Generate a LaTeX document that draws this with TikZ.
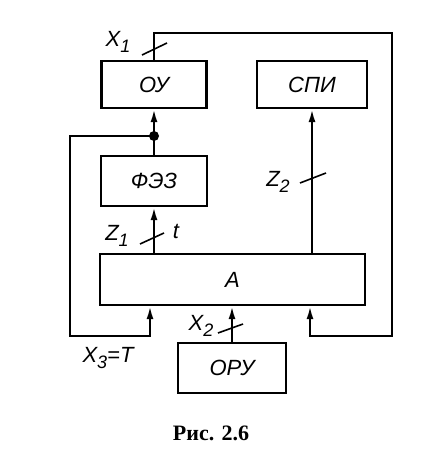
\documentclass[tikz,border=0pt]{standalone}
\usepackage{fontspec}
\setmainfont{Liberation Serif}
\newfontfamily\gostfont{Liberation Sans}
\usetikzlibrary{positioning,arrows.meta}
\newcommand{\lowidx}[1]{\raisebox{-0.55ex}{\fontsize{18}{18}\selectfont #1}}

\begin{document}
\begin{tikzpicture}[x=1pt,y=-1pt,
  blk/.style={draw,line width=2.2pt,inner sep=0pt,font=\gostfont\itshape\fontsize{22}{22}\selectfont},
  lbl/.style={inner sep=0pt,font=\gostfont\itshape\fontsize{22}{22}\selectfont},
  ln/.style={line width=2.2pt},
  arr/.style={ln,-{Latex[length=13pt,width=7pt]}},
  slash/.style={line width=1.6pt},
  dot/.style={circle,fill,inner sep=0pt,minimum size=10pt}
]
\useasboundingbox (0,0) rectangle (420,457);
\node[blk,minimum width=105pt,minimum height=47pt] (ou) at (154,84.5) {ОУ};
\node[blk,minimum width=110pt,minimum height=47pt] (spi) at (312,84.5) {СПИ};
\node[blk,minimum width=106pt,minimum height=50pt] (fez) at (154,181) {ФЭЗ};
\node[blk,minimum width=265pt,minimum height=51pt] (a) at (232.5,279.5) {А};
\node[blk,minimum width=108pt,minimum height=50pt] (oru) at (232,368) {ОРУ};
\node[dot] (br) at (154,136) {};
\coordinate (tr) at (392,33);
\coordinate (rin) at (310,336);
\coordinate (lb) at (70,336);
\coordinate (lin) at (150,336);

\draw[arr] (ou.north) |- (tr) |- (rin) -- (rin |- a.south);
\draw[arr] (fez.north) -- (ou.south);
\draw[arr] (br.center) -| (lb) -- (lin) -- (lin |- a.south);
\draw[arr] (a.north -| fez.south) -- (fez.south);
\draw[arr] (a.north -| spi.south) -- (spi.south);
\draw[arr] (oru.north) -- (oru.north |- a.south);

\draw[slash] (142,55) -- ++(25,-12);
\draw[slash] (140,244) -- ++(24,-11);
\draw[slash] (300,183) -- ++(26,-10);
\draw[slash] (218,333) -- ++(25,-9);

\node[lbl] (x1) at (118,42) {X\lowidx{1}};
\node[lbl] (t) at (176,231) {t};
\node[lbl] (z1) at (117,236) {Z\lowidx{1}};
\node[lbl] (z2) at (278,182) {Z\lowidx{2}};
\node[lbl] (x2) at (201,326) {X\lowidx{2}};
\node[lbl] (x3) at (108,358) {X\lowidx{3}=T};
\node[font=\bfseries\fontsize{22}{22}\selectfont] (cap) at (211,433) {Рис. 2.6};
\end{tikzpicture}
\end{document}
